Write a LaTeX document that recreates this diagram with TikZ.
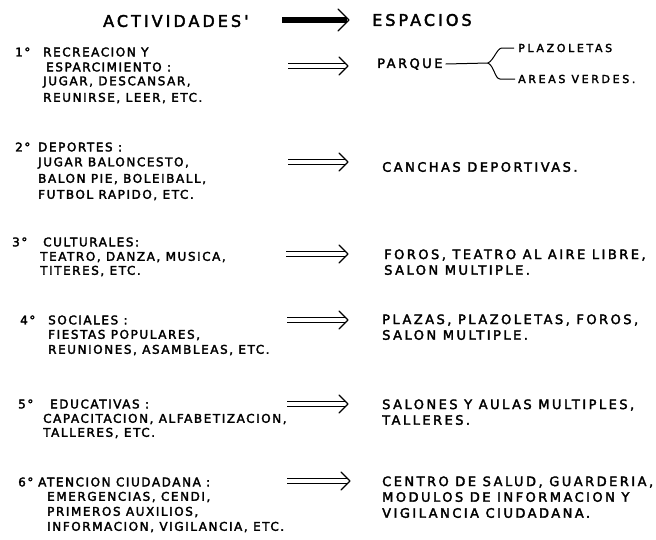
\documentclass[tikz,border=0pt]{standalone}
\usepackage{fontspec}
\usepackage{tikz}
\newfontfamily\letra[LetterSpace=13, FakeBold=2.5]{DejaVu Sans}
\newfontfamily\letrab[LetterSpace=19, FakeBold=2.5]{DejaVu Sans}
\newfontfamily\letrac[LetterSpace=24, FakeBold=2.5]{DejaVu Sans}

\begin{document}
\begin{tikzpicture}[x=1pt, y=-1pt,
  act/.style={anchor=west, inner sep=0pt, font=\fontsize{12}{14}\letra},
  esp/.style={anchor=west, inner sep=0pt, font=\fontsize{13}{15}\letrab},
  chico/.style={anchor=west, inner sep=0pt, font=\fontsize{11}{13}\letrac},
  tit/.style={anchor=west, inner sep=0pt, font=\fontsize{16}{18}\letrab},
  flecha/.style={double=white, double distance=3.5pt, line width=1pt, shorten >=2pt},
  punta/.style={line width=1.2pt, line cap=round, line join=round}]

  \useasboundingbox (0,0) rectangle (656,539);

  \newcommand\punta[2]{\draw[punta] ([shift={(-#2,-#2)}]#1) -- (#1) -- ([shift={(-#2,#2)}]#1);}

  %% encabezado
  \node[tit] (act0) at (103,21) {ACTIVIDADES'};
  \node[tit] (esp0) at (372,20) {ESPACIOS};
  \coordinate (f0a) at (282,20);
  \coordinate (f0b) at (349,20);
  \draw[flecha, double=black, line width=1.2pt] (f0a) -- (f0b);
  \punta{f0b}{11}

  %% 1 recreacion
  \node[act] (n1) at (15,52) {1°};
  \node[act] (act1a) at (43,52) {RECREACION Y};
  \node[act] (act1b) at (46,67) {ESPARCIMIENTO :};
  \node[act] (act1c) at (43,82) {JUGAR, DESCANSAR,};
  \node[act] (act1d) at (43,98) {REUNIRSE, LEER, ETC.};
  \coordinate (f1a) at (288,66);
  \coordinate (f1b) at (348,66);
  \draw[flecha] (f1a) -- (f1b);
  \punta{f1b}{9}
  \node[esp] (esp1) at (377,64) {PARQUE};
  \node[chico] (esp1a) at (518,48) {PLAZOLETAS};
  \node[chico] (esp1b) at (518,79) {AREAS VERDES.};
  \coordinate (llave) at (488,63);
  \draw[line width=1pt] ([xshift=3pt]esp1.east) -- (llave);
  \draw[line width=1pt] ([xshift=-4pt]esp1a.west) -- ++(-12,0) .. controls +(-5,0) and (494,60) .. (llave)
        .. controls (494,66) and (495,79) .. (500,79) -- ([xshift=-3pt]esp1b.west); % llave

  %% 2 deportes
  \node[act] (n2) at (15,147) {2°};
  \node[act] (act2a) at (38,147) {DEPORTES :};
  \node[act] (act2b) at (38,163) {JUGAR BALONCESTO,};
  \node[act] (act2c) at (38,179) {BALON PIE, BOLEIBALL,};
  \node[act] (act2d) at (38,195) {FUTBOL RAPIDO, ETC.};
  \coordinate (f2a) at (288,162);
  \coordinate (f2b) at (348,162);
  \draw[flecha] (f2a) -- (f2b);
  \punta{f2b}{9}
  \node[esp] (esp2) at (382,167) {CANCHAS DEPORTIVAS.};

  %% 3 culturales
  \node[act] (n3) at (12,242) {3°};
  \node[act] (act3a) at (43,242) {CULTURALES:};
  \node[act] (act3b) at (40,257) {TEATRO, DANZA, MUSICA,};
  \node[act] (act3c) at (40,271) {TITERES, ETC.};
  \coordinate (f3a) at (286,254);
  \coordinate (f3b) at (348,254);
  \draw[flecha] (f3a) -- (f3b);
  \punta{f3b}{9}
  \node[esp] (esp3a) at (384,255) {FOROS, TEATRO AL AIRE LIBRE,};
  \node[esp] (esp3b) at (384,270) {SALON MULTIPLE.};

  %% 4 sociales
  \node[act] (n4) at (20,320) {4°};
  \node[act] (act4a) at (48,320) {SOCIALES :};
  \node[act] (act4b) at (48,335) {FIESTAS POPULARES,};
  \node[act] (act4c) at (48,350) {REUNIONES, ASAMBLEAS, ETC.};
  \coordinate (f4a) at (287,320);
  \coordinate (f4b) at (348,320);
  \draw[flecha] (f4a) -- (f4b);
  \punta{f4b}{9}
  \node[esp] (esp4a) at (382,320) {PLAZAS, PLAZOLETAS, FOROS,};
  \node[esp] (esp4b) at (382,335) {SALON MULTIPLE.};

  %% 5 educativas
  \node[act] (n5) at (18,404) {5°};
  \node[act] (act5a) at (50,404) {EDUCATIVAS :};
  \node[act] (act5b) at (43,419) {CAPACITACION, ALFABETIZACION,};
  \node[act] (act5c) at (43,433) {TALLERES, ETC.};
  \coordinate (f5a) at (287,404);
  \coordinate (f5b) at (348,404);
  \draw[flecha] (f5a) -- (f5b);
  \punta{f5b}{9}
  \node[esp] (esp5a) at (382,405) {SALONES Y AULAS MULTIPLES,};
  \node[esp] (esp5b) at (382,420) {TALLERES.};

  %% 6 atencion ciudadana
  \node[act] (n6) at (18,482) {6°};
  \node[act] (act6a) at (38,482) {ATENCION CIUDADANA :};
  \node[act] (act6b) at (47,497) {EMERGENCIAS, CENDI,};
  \node[act] (act6c) at (47,512) {PRIMEROS AUXILIOS,};
  \node[act] (act6d) at (47,527) {INFORMACION, VIGILANCIA, ETC.};
  \coordinate (f6a) at (287,481);
  \coordinate (f6b) at (350,481);
  \draw[flecha] (f6a) -- (f6b);
  \punta{f6b}{9}
  \node[esp] (esp6a) at (382,482) {CENTRO DE SALUD, GUARDERIA,};
  \node[esp] (esp6b) at (382,497) {MODULOS DE INFORMACION Y};
  \node[esp] (esp6c) at (382,513) {VIGILANCIA CIUDADANA.};

\end{tikzpicture}
\end{document}
